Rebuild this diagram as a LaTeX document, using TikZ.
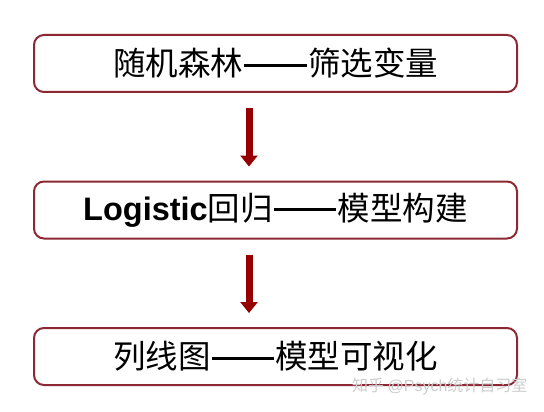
\documentclass[tikz,border=0pt]{standalone}
\usepackage{fontspec}
\newfontfamily\cjk{Noto Sans CJK SC}
\newfontfamily\arial{Liberation Sans}
\usetikzlibrary {arrows.meta, positioning}
\definecolor{boxred}{RGB}{140,40,52}
\definecolor{arrowred}{RGB}{150,0,0}
\newcommand*{\latin}[1]{{\arial\bfseries #1}}
\newcommand*{\longdash}{\hspace{0.04em}\rule[0.28em]{1.92em}{0.085em}\hspace{0.04em}}

\begin{document}
\begin{tikzpicture}[
        x=1pt,y=-1pt,
        stepbox/.style={draw=boxred, line width=2pt, rounded corners=10pt, fill=white,
          minimum width=483pt, minimum height=57pt, inner sep=0pt,
          font=\cjk\fontsize{32.5}{32.5}\selectfont},
        flow/.style={draw=arrowred, line width=7pt, -{Triangle[width=17pt,length=11pt]},
          shorten <=15pt, shorten >=14pt},
        ]
        \useasboundingbox (0,0) rectangle (544,412);
        \node[stepbox] (forest)   at (275.5,63.5)  {随机森林\longdash 筛选变量};
        \node[stepbox] (logistic) at (275.5,210)   {\latin{Logistic}回归\longdash 模型构建};
        \node[stepbox] (nomogram) at (275.5,356.5) {列线图\longdash 模型可视化};

        \draw[flow] ([xshift=-26.5pt]forest.south) -- ([xshift=-26.5pt]logistic.north);
        \draw[flow] ([xshift=-26.5pt]logistic.south) -- ([xshift=-26.5pt]nomogram.north);

        \node[text=gray!40, font=\cjk\fontsize{16}{16}\selectfont, anchor=east]
          (watermark) at (531,386) {知乎 {\arial @Psych}统计自习室};
      \end{tikzpicture}
\end{document}
